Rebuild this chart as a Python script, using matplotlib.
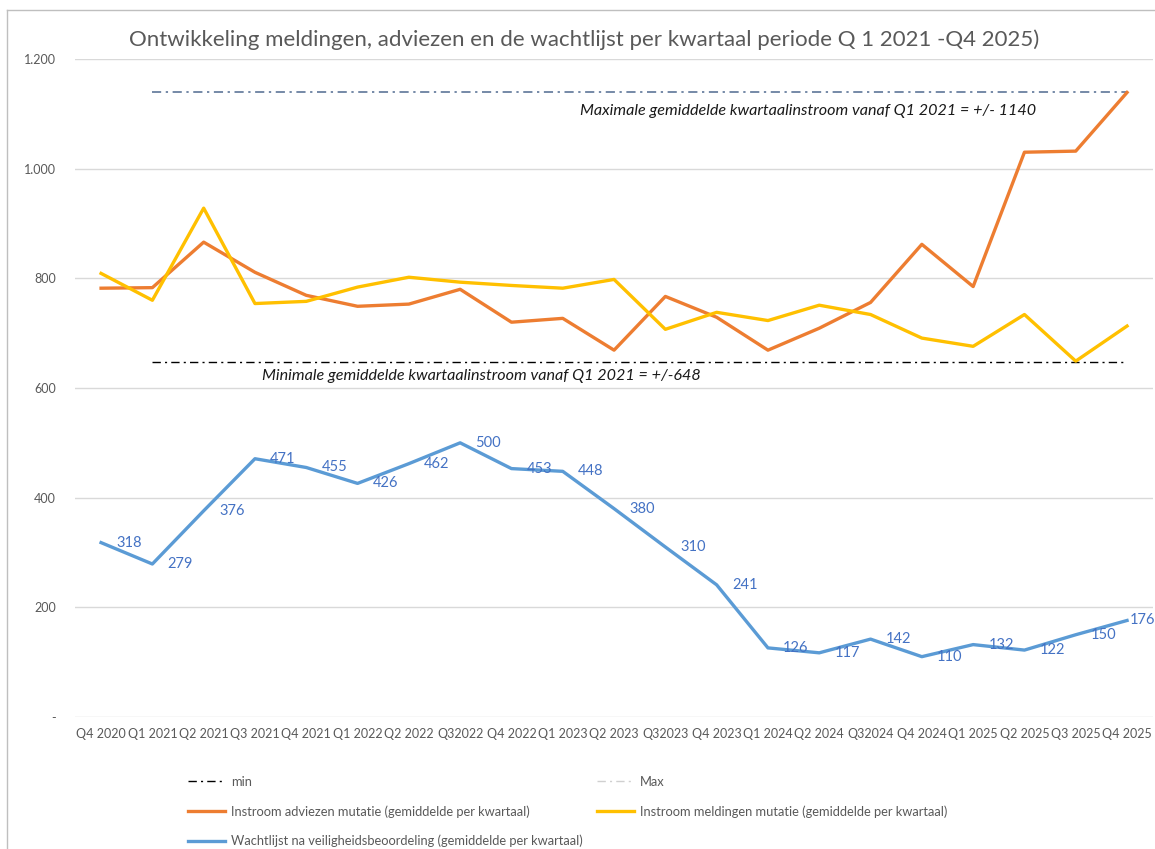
import numpy as np
import matplotlib.pyplot as plt
from matplotlib.lines import Line2D

plt.rcParams['font.family'] = ['Lato', 'DejaVu Sans']

# Kwartalen op de x-as
kwartalen = ['Q4 2020', 'Q1 2021', 'Q2 2021', 'Q3 2021', 'Q4 2021', 'Q1 2022', 'Q2 2022',
             'Q32022', 'Q4 2022', 'Q1 2023', 'Q2 2023', 'Q32023', 'Q4 2023', 'Q1 2024',
             'Q2 2024', 'Q32024', 'Q4 2024', 'Q1 2025', 'Q2 2025', 'Q3 2025', 'Q4 2025']

# Instroom adviezen (oranje), geschat uit de grafiek
adviezen = [782, 783, 866, 811, 769, 749, 753, 780, 720, 727, 669,
            767, 729, 669, 709, 756, 862, 785, 1030, 1032, 1139]

# Instroom meldingen (geel), geschat uit de grafiek
meldingen = [809, 760, 928, 754, 758, 784, 802, 793, 787, 782, 798,
             707, 738, 723, 751, 734, 691, 676, 734, 649, 713]

# Wachtlijst na veiligheidsbeoordeling (blauw), met labels
wachtlijst = [318, 279, 376, 471, 455, 426, 462, 500, 453, 448, 380,
              310, 241, 126, 117, 142, 110, 132, 122, 150, 176]

min_waarde = 648
max_waarde = 1140

oranje = '#ED7D31'
geel = '#FFC000'
blauw = '#5B9BD5'
grijs = '#595959'

fig = plt.figure(figsize=(11.55, 8.49), dpi=100)
ax = fig.add_axes([0.0653, 0.1555, 0.9327, 0.775])

x = np.arange(len(kwartalen))

# min / max lijnen vanaf Q1 2021
ax.plot(x[1:], [min_waarde] * (len(x) - 1), color='black', lw=1.0,
        linestyle=(0, (6, 3, 1.5, 3)), zorder=2)
ax.plot(x[1:], [max_waarde] * (len(x) - 1), color='#4F6A8F', lw=1.1,
        linestyle=(0, (6, 3, 1.5, 3)), zorder=2)

ax.plot(x, adviezen, color=oranje, lw=2.4, zorder=3)
ax.plot(x, meldingen, color=geel, lw=2.4, zorder=3)
ax.plot(x, wachtlijst, color=blauw, lw=2.4, zorder=3)

for i, v in enumerate(wachtlijst):
    dx = 2 if i == len(wachtlijst) - 1 else 11
    ax.annotate(str(v), (x[i], v), xytext=(dx, 0), textcoords='offset points',
                ha='left', va='center', fontsize=10.5, color='#4472C4',
                annotation_clip=False, zorder=4)

ax.text(9.34, 1106, 'Maximale gemiddelde kwartaalinstroom vanaf Q1 2021 = +/- 1140',
        style='italic', fontsize=11.6, color='#1a1a1a', va='center', ha='left')
ax.text(3.14, 621, 'Minimale gemiddelde kwartaalinstroom vanaf Q1 2021 = +/-648',
        style='italic', fontsize=11.6, color='#1a1a1a', va='center', ha='left')

ax.set_xlim(-0.5, len(x) - 0.5)
ax.set_ylim(0, 1200)
ax.set_yticks([0, 200, 400, 600, 800, 1000, 1200])
ax.set_yticklabels(['-', '200', '400', '600', '800', '1.000', '1.200'])
ax.set_xticks(x)
ax.set_xticklabels(kwartalen)
ax.tick_params(axis='both', length=0, labelsize=9, labelcolor=grijs)
ax.tick_params(axis='y', pad=14)
ax.tick_params(axis='x', pad=8)
ax.grid(axis='y', color='#D9D9D9', lw=1)
ax.set_axisbelow(True)
for s in ax.spines.values():
    s.set_visible(False)

fig.text(0.506, 0.953, 'Ontwikkeling meldingen, adviezen en de wachtlijst per kwartaal periode Q 1 2021 -Q4 2025)',
         ha='center', va='center', fontsize=16, color=grijs)

# rand van de grafiek
fig.add_artist(Line2D([7 / 1155, 7 / 1155], [0, 1 - 10 / 849], color='#BFBFBF', lw=1))
fig.add_artist(Line2D([7 / 1155, 1], [1 - 10 / 849, 1 - 10 / 849], color='#BFBFBF', lw=1))

# legenda in twee kolommen
links = [Line2D([], [], color='black', lw=1.0, linestyle=(0, (6, 3, 1.5, 3))),
         Line2D([], [], color=oranje, lw=2.4),
         Line2D([], [], color=blauw, lw=2.4)]
links_tekst = ['min',
               'Instroom adviezen mutatie (gemiddelde per kwartaal)',
               'Wachtlijst na veiligheidsbeoordeling (gemiddelde per kwartaal)']
rechts = [Line2D([], [], color='#D0D0D0', lw=1.0, linestyle=(0, (6, 3, 1.5, 3))),
          Line2D([], [], color=geel, lw=2.4)]
rechts_tekst = ['Max', 'Instroom meldingen mutatie (gemiddelde per kwartaal)']

opts = dict(loc='upper left', frameon=False, fontsize=9.3, handlelength=2.9,
            handletextpad=0.4, labelspacing=1.33, borderpad=0, borderaxespad=0,
            labelcolor=grijs)
fig.legend(links, links_tekst, bbox_to_anchor=(188 / 1155, 1 - 776 / 849), **opts)
fig.legend(rechts, rechts_tekst, bbox_to_anchor=(597 / 1155, 1 - 776 / 849), **opts)

fig.savefig('out.png', dpi=100)
